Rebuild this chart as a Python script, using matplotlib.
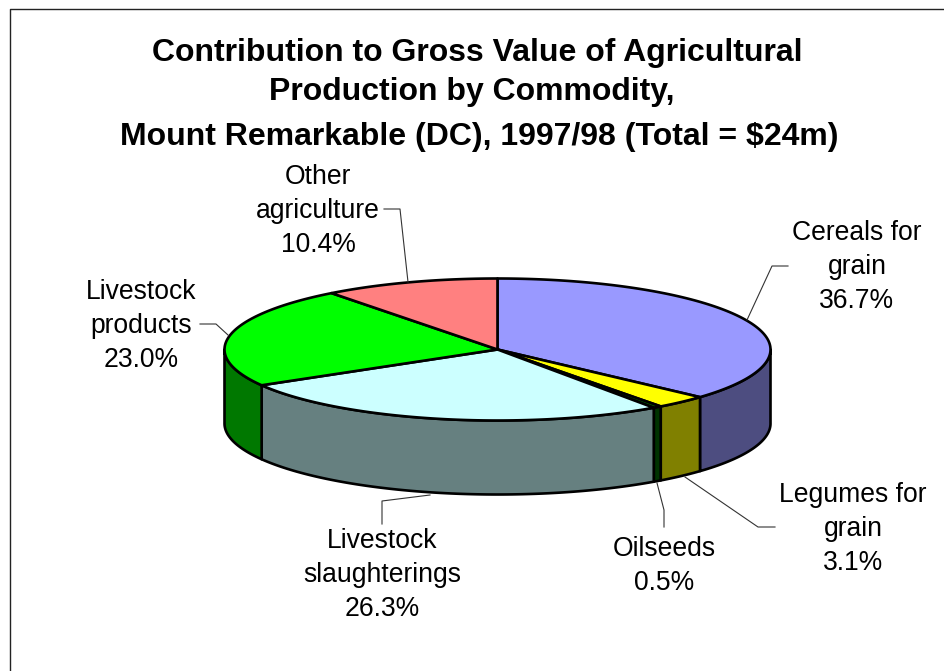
"""Contribucion por producto: torta 3D dibujada con poligonos."""

import matplotlib

matplotlib.use("Agg")
import matplotlib.pyplot as plt
from matplotlib.patches import Polygon
import numpy as np

plt.rcParams["font.family"] = ["Liberation Sans", "DejaVu Sans"]

TITULO = [
    "Contribution to Gross Value of Agricultural",
    "Production by Commodity,",
    "Mount Remarkable (DC), 1997/98 (Total = $24m)",
]
categorias = [
    "Cereals for\ngrain",
    "Legumes for\ngrain",
    "Oilseeds",
    "Livestock\nslaughterings",
    "Livestock\nproducts",
    "Other\nagriculture",
]
valores = [36.7, 3.1, 0.5, 26.3, 23.0, 10.4]

colores_top = ["#9999FF", "#FFFF00", "#006600", "#CCFFFF", "#00FF00", "#FF8080"]
colores_lado = ["#4D4D80", "#808000", "#003300", "#668080", "#007800", "#804040"]

# geometria en pixeles de la imagen
CX, CY = 497.5, 349.5
RX, RY = 273, 71
ALTO = 74

pos_titulo = [(477, 53), (472, 92), (479, 137)]
pos_etiquetas = [(857, 267), (853, 529), (664, 566), (382, 575), (141, 326), (318, 211)]
guias = [
    [(747, 320), (772, 266), (788, 266)],
    [(685, 477), (758, 527), (775, 527)],
    [(657, 483), (664, 510), (664, 527)],
    [(430, 495), (382, 501), (382, 524)],
    [(228, 335), (216, 324), (200, 324)],
    [(408, 282), (400, 209), (384, 209)],
]


def punto(angulo, dy=0):
    # angulo en grados, horario desde arriba
    a = np.radians(angulo)
    return CX + RX * np.sin(a), CY - RY * np.cos(a) + dy


def arco(a0, a1, dy=0):
    angulos = np.linspace(a0, a1, max(int(abs(a1 - a0) * 2), 2))
    return [punto(a, dy) for a in angulos]


fig = plt.figure(figsize=(9.44, 6.71), dpi=100)
ax = fig.add_axes([0, 0, 1, 1])
ax.set_xlim(0, 944)
ax.set_ylim(671, 0)
ax.axis("off")

# borde del area del grafico
ax.plot([9.5, 9.5, 944], [671, 9, 9], color="#222222", lw=1.0, solid_capstyle="butt")

cortes = np.concatenate([[0], np.cumsum(valores)]) * 3.6
cortes[-1] = 360

# caras laterales visibles (de 90 a 270 grados)
for i, color in enumerate(colores_lado):
    a0 = max(cortes[i], 90)
    a1 = min(cortes[i + 1], 270)
    if a1 <= a0:
        continue
    cara = arco(a0, a1) + arco(a1, a0, ALTO)
    ax.add_patch(Polygon(cara, closed=True, facecolor=color, edgecolor="black", lw=1.9, joinstyle="round"))

# caras superiores
for i, color in enumerate(colores_top):
    sector = [(CX, CY)] + arco(cortes[i], cortes[i + 1])
    ax.add_patch(Polygon(sector, closed=True, facecolor=color, edgecolor="black", lw=1.9, joinstyle="round"))

for linea, (x, y) in zip(TITULO, pos_titulo):
    ax.text(x, y, linea, ha="center", va="center", fontsize=23, fontweight="bold", color="black")

for guia in guias:
    xs, ys = zip(*guia)
    ax.plot(xs, ys, color="#333333", lw=0.8)

for nombre, valor, (x, y) in zip(categorias, valores, pos_etiquetas):
    texto = f"{nombre}\n{valor:.1f}%"
    ax.text(x, y, texto, ha="center", va="center", fontsize=19.1, color="black", linespacing=1.4)

fig.savefig("out.png", dpi=100, facecolor="white")
